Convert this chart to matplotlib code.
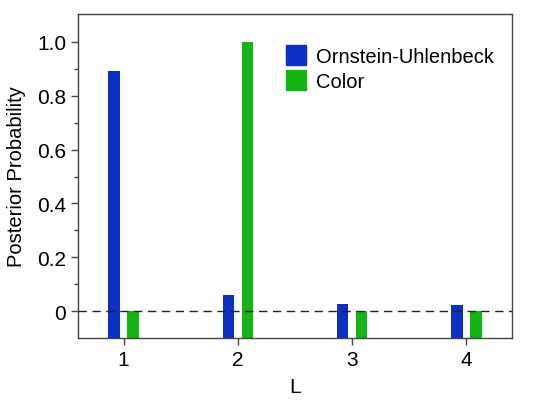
import numpy as np
import matplotlib
matplotlib.use("Agg")
import matplotlib.pyplot as plt
from matplotlib.lines import Line2D

plt.rcParams['font.family'] = ['Liberation Sans', 'DejaVu Sans']
plt.rcParams['font.size'] = 14

L = [1, 2, 3, 4]
ou_prob = [0.891, 0.059, 0.028, 0.024]
color_prob = [0.0, 1.0, 0.0, 0.0]
labels = ["Ornstein-Uhlenbeck", "Color"]

BLUE = "#0c2fc4"
GREEN = "#14b414"
YMIN = -0.1

fig = plt.figure(figsize=(5.38, 4.02), dpi=100)
fig.subplots_adjust(left=78/538, right=512/538, top=1-15/402, bottom=1-339/402)
ax = fig.add_subplot(111)

x = np.array(L, dtype=float)
w = 0.1
off = 0.083
ax.bar(x - off, np.array(ou_prob) - YMIN, bottom=YMIN, width=w, color=BLUE, zorder=2)
ax.bar(x + off, np.array(color_prob) - YMIN, bottom=YMIN, width=w, color=GREEN, zorder=2)
ax.axhline(0, color="#222222", lw=1, ls=(0, (6, 4)), zorder=3)

ax.set_xlim(0.6, 4.4)
ax.set_ylim(YMIN, 1.104)
ax.set_xticks(L)
ax.set_yticks([0, 0.2, 0.4, 0.6, 0.8, 1.0])
ax.set_yticklabels(["0", "0.2", "0.4", "0.6", "0.8", "1.0"])
ax.set_yticks(np.arange(0.1, 1.05, 0.2), minor=True)
ax.tick_params(which="major", length=5, width=1, color="#444444", direction="out",
               labelsize=15)
ax.tick_params(which="minor", length=3, width=1, color="#444444", direction="out")
for s in ax.spines.values():
    s.set_color("#444444")
    s.set_linewidth(1)

ax.set_xlabel("L", fontsize=15, labelpad=6)
ax.set_ylabel("Posterior Probability", fontsize=14.5, labelpad=8)

handles = [Line2D([], [], ls="none", marker="s", markersize=14, color=BLUE),
           Line2D([], [], ls="none", marker="s", markersize=14, color=GREEN)]
ax.legend(handles, labels, loc="upper right", bbox_to_anchor=(1.0, 0.955),
          frameon=False, handlelength=1.0, handletextpad=0.5, labelspacing=0.3,
          borderaxespad=0.5, fontsize=14.5)

fig.savefig("out.png", dpi=100)
